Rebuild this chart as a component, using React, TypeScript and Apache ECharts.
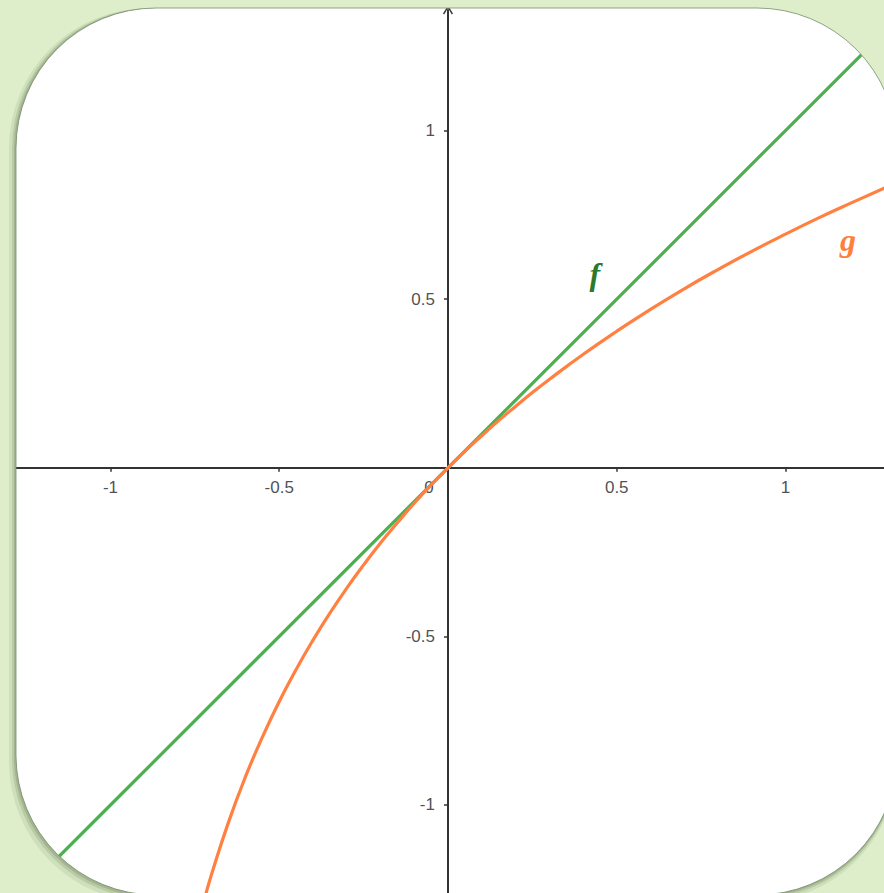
import React, { useEffect, useRef } from "react";
import * as echarts from "echarts";

// f(x) line
const fX = [-1.35, -1, 0, 1, 1.35];
const fY = [-1.35, -1, 0, 1, 1.35];

// g(x) curve
const gX = [-0.74, -0.72, -0.7, -0.65, -0.6, -0.55, -0.5, -0.45, -0.4, -0.35, -0.3, -0.25, -0.2, -0.15, -0.1, -0.05, 0, 0.05, 0.1, 0.15, 0.2, 0.25, 0.3, 0.4, 0.5, 0.6, 0.7, 0.8, 0.9, 1.0, 1.1, 1.2, 1.3];
const gY = [-1.347, -1.273, -1.204, -1.05, -0.916, -0.799, -0.693, -0.598, -0.511, -0.431, -0.357, -0.288, -0.223, -0.163, -0.105, -0.051, 0, 0.049, 0.095, 0.14, 0.182, 0.223, 0.262, 0.336, 0.405, 0.47, 0.531, 0.588, 0.642, 0.693, 0.742, 0.788, 0.833];

const xTicks = [-1, -0.5, 0, 0.5, 1];
const yTicks = [-1, -0.5, 0.5, 1];
const xRange = [-1.3274, 1.2919];
const yRange = [-1.261, 1.3577];

const fLabelAt = [0.435, 0.575];
const gLabelAt = [1.185, 0.675];

const W = 884;
const H = 893;

function roundRectCCW(L: number, T: number, R: number, B: number, r: number) {
  return (
    `M${L + r} ${T} ` +
    `A${r} ${r} 0 0 0 ${L} ${T + r} ` +
    `L${L} ${B - r} ` +
    `A${r} ${r} 0 0 0 ${L + r} ${B} ` +
    `L${R - r} ${B} ` +
    `A${r} ${r} 0 0 0 ${R} ${B - r} ` +
    `L${R} ${T + r} ` +
    `A${r} ${r} 0 0 0 ${R - r} ${T} Z`
  );
}
function roundRectCW(L: number, T: number, R: number, B: number, r: number) {
  return (
    `M${L + r} ${T} ` +
    `L${R - r} ${T} ` +
    `A${r} ${r} 0 0 1 ${R} ${T + r} ` +
    `L${R} ${B - r} ` +
    `A${r} ${r} 0 0 1 ${R - r} ${B} ` +
    `L${L + r} ${B} ` +
    `A${r} ${r} 0 0 1 ${L} ${B - r} ` +
    `L${L} ${T + r} ` +
    `A${r} ${r} 0 0 1 ${L + r} ${T} Z`
  );
}

const CL = 16, CT = 8, CR = 897, CB = 895, CRAD = 140;

let registered = false;
function registerShapes() {
  if (registered) return;
  registered = true;
  const frame = `M0 0 L${W} 0 L${W} ${H} L0 ${H} Z ` + roundRectCCW(CL, CT, CR, CB, CRAD);
  echarts.graphic.registerShape("frameShape", echarts.graphic.extendPath(frame, {}) as any);
  [2, 4, 7].forEach((d, i) => {
    const band = roundRectCW(CL - d, CT, CR, CB + d, CRAD) + " " + roundRectCCW(CL, CT, CR, CB, CRAD);
    echarts.graphic.registerShape("shadowBand" + i, echarts.graphic.extendPath(band, {}) as any);
  });
}

const tickFont = {
  color: "#222",
  fontSize: 17,
  fontFamily: "'Liberation Sans', Arial, sans-serif",
};

const axisColor = "#333";

export default function App() {
  const ref = useRef<HTMLDivElement>(null);
  useEffect(() => {
    if (!ref.current) return;
    registerShapes();
    const chart = echarts.init(ref.current, undefined, { renderer: "svg" });
    const fData = fX.map((x, i) => [x, fY[i]]);
    const gData = gX.map((x, i) => [x, gY[i]]);
    const xLabelData = xTicks.map((v) => ({
      value: [v, 0],
      label: v === 0 ? { offset: [-19, 0] } : {},
    }));
    const yLabelData = yTicks.map((v) => [0, v]);
    const labelFont = {
      fontFamily: "'Liberation Serif', 'DejaVu Serif', serif",
      fontStyle: "italic" as const,
      fontWeight: "bold" as const,
      fontSize: 32,
    };
    chart.setOption({
      animation: false,
      backgroundColor: "#ffffff",
      grid: { left: 0, right: 0, top: 10, bottom: 0 },
      xAxis: {
        type: "value",
        min: xRange[0],
        max: xRange[1],
        splitLine: { show: false },
        axisLine: { onZero: true, lineStyle: { color: axisColor, width: 2 } },
        axisTick: { show: true, length: 4, customValues: xTicks, lineStyle: { color: axisColor, width: 1.5 } },
        axisLabel: { show: false },
      },
      yAxis: {
        type: "value",
        min: yRange[0],
        max: yRange[1],
        splitLine: { show: false },
        axisLine: {
          onZero: true,
          symbol: ["none", "path://M0,8 L5,0 L10,8 L8.8,9 L5,2.6 L1.2,9 Z"],
          symbolSize: [12, 9],
          lineStyle: { color: axisColor, width: 2 },
        },
        axisTick: { show: true, length: 4, customValues: yTicks, lineStyle: { color: axisColor, width: 1.5 } },
        axisLabel: { show: false },
      },
      series: [
        {
          type: "scatter",
          name: "xTickLabels",
          data: xLabelData,
          symbolSize: 0,
          silent: true,
          z: 1,
          label: {
            show: true,
            position: "bottom",
            distance: 11,
            formatter: (p: any) => String(p.value[0]),
            ...tickFont,
          },
        },
        {
          type: "scatter",
          name: "yTickLabels",
          data: yLabelData,
          symbolSize: 0,
          silent: true,
          z: 1,
          label: {
            show: true,
            position: "left",
            distance: 13,
            formatter: (p: any) => String(p.value[1]),
            ...tickFont,
          },
        },
        {
          type: "line",
          name: "f",
          data: fData,
          showSymbol: false,
          symbol: "none",
          lineStyle: { color: "#4caf50", width: 3.2 },
          z: 3,
          markPoint: {
            symbol: "circle",
            symbolSize: 1,
            itemStyle: { color: "rgba(0,0,0,0)" },
            label: { show: true, position: "inside", formatter: "f", color: "#2b7a2b", ...labelFont },
            data: [{ coord: fLabelAt }],
          },
        },
        {
          type: "line",
          name: "g",
          data: gData,
          smooth: true,
          showSymbol: false,
          symbol: "none",
          lineStyle: { color: "#ff8040", width: 3.2 },
          z: 4,
          markPoint: {
            symbol: "circle",
            symbolSize: 1,
            itemStyle: { color: "rgba(0,0,0,0)" },
            label: { show: true, position: "inside", formatter: "g", color: "#ff7f3a", ...labelFont },
            data: [{ coord: gLabelAt }],
          },
        },
      ],
      graphic: [
        { type: "frameShape", x: 0, y: 0, z: 100, silent: true, style: { fill: "#deeecb" } },
        { type: "shadowBand2", x: 0, y: 0, z: 101, silent: true, style: { fill: "rgba(70,95,50,0.10)" } },
        { type: "shadowBand1", x: 0, y: 0, z: 102, silent: true, style: { fill: "rgba(70,95,50,0.15)" } },
        { type: "shadowBand0", x: 0, y: 0, z: 103, silent: true, style: { fill: "rgba(70,95,50,0.20)" } },
        {
          type: "rect",
          z: 104,
          silent: true,
          shape: { x: CL, y: CT, width: CR - CL, height: CB - CT, r: CRAD },
          style: { fill: "none", stroke: "rgba(120,140,110,0.8)", lineWidth: 1 },
        },
      ],
    });
    return () => chart.dispose();
  }, []);
  return <div ref={ref} style={{ position: "fixed", left: 0, top: 0, width: W, height: H }} />;
}
